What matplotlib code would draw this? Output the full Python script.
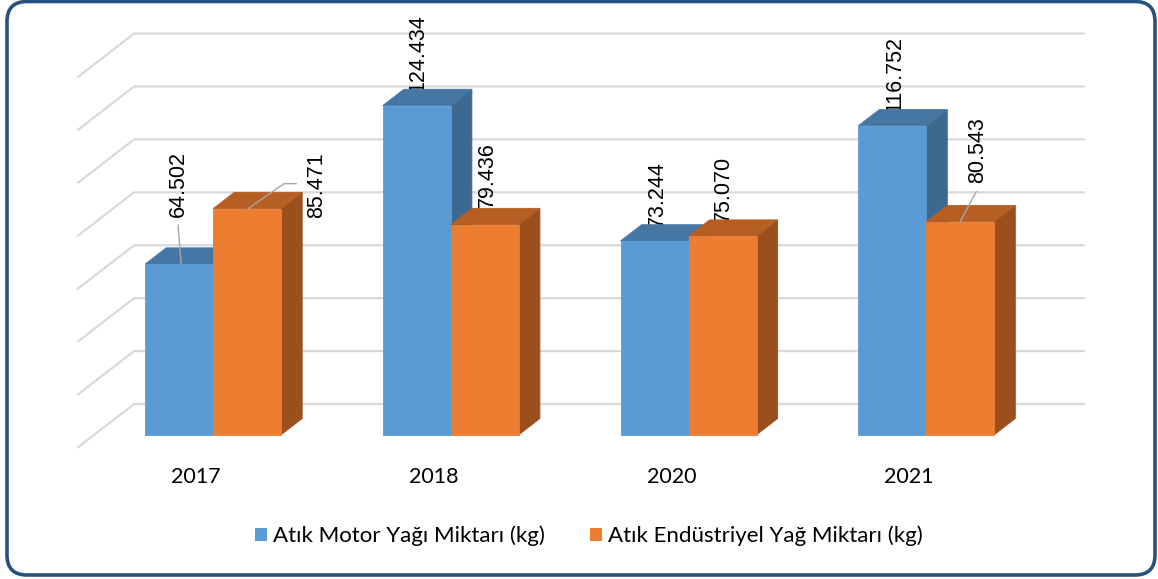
import matplotlib
matplotlib.use('Agg')
import matplotlib.pyplot as plt
from matplotlib.patches import Polygon, FancyBboxPatch, Patch
from matplotlib.lines import Line2D

# ---------------- data ----------------
years = ['2017', '2018', '2020', '2021']
motor_oil = [64502, 124434, 73244, 116752]        # kg
industrial_oil = [85471, 79436, 75070, 80543]     # kg
series_names = ['Atık Motor Yağı Miktarı (kg)', 'Atık Endüstriyel Yağ Miktarı (kg)']
grid_values = [0, 20000, 40000, 60000, 80000, 100000, 120000, 140000]

# ---------------- style / layout ----------------
BLUE = {'front': '#5B9BD5', 'top': '#4676A3', 'side': '#3D6990'}
ORANGE = {'front': '#ED7D31', 'top': '#B65E23', 'side': '#9B4F1D'}
GRID_C = '#D9D9D9'
LEADER_C = '#A6A6A6'
BORDER_C = '#26527F'

W, H = 1158, 579
fig = plt.figure(figsize=(W / 100, H / 100), dpi=100)
ax = fig.add_axes([0, 0, 1, 1])
ax.axis('off')

# axis scales (x: category units, y: kg)
PX_PER_CAT = 237.7
PX_PER_KG = 2.646e-3
X0_PX = 196.0      # pixel x of category 0 at the front floor edge
Y0_PX = 448.0      # pixel y (from top) of value 0 at the front floor edge
ax.set_xlim(-X0_PX / PX_PER_CAT, (W - X0_PX) / PX_PER_CAT)
ax.set_ylim((Y0_PX - H) / PX_PER_KG, Y0_PX / PX_PER_KG)

# oblique depth (full depth of the floor)
DX = 57 / PX_PER_CAT
DY = 44 / PX_PER_KG
Z_FRONT, Z_BACK = 0.30, 0.67     # bar depth range
BAR_W = 68 / PX_PER_CAT


def P(x, v, z):
    return (x + z * DX, v + z * DY)


# ---------------- walls / gridlines ----------------
n = len(years)
for g in grid_values:
    a = P(-0.5, g, 0)
    b = P(-0.5, g, 1)
    c = P(n - 0.5, g, 1)
    ax.plot([a[0], b[0], c[0]], [a[1], b[1], c[1]], color=GRID_C, lw=1.6,
            solid_capstyle='butt', zorder=1)


def draw_bar(x0, x1, v, col, z):
    front = [P(x0, 0, Z_FRONT), P(x1, 0, Z_FRONT), P(x1, v, Z_FRONT), P(x0, v, Z_FRONT)]
    top = [P(x0, v, Z_FRONT), P(x1, v, Z_FRONT), P(x1, v, Z_BACK), P(x0, v, Z_BACK)]
    side = [P(x1, 0, Z_FRONT), P(x1, 0, Z_BACK), P(x1, v, Z_BACK), P(x1, v, Z_FRONT)]
    for poly, key in ((side, 'side'), (top, 'top'), (front, 'front')):
        ax.add_patch(Polygon(poly, closed=True, fc=col[key], ec=col[key], lw=0.6, zorder=z))


def fmt(v):
    return f'{v:,}'.replace(',', '.')


# label offsets in pixels (dx, dy up) from bar front-top centre; leader polyline offsets
label_layout = {
    (0, 0): ((-1, 47), [(2, 0), (-1, 39)]),
    (0, 1): ((70, -9), [(1, 0), (37, 25), (49, 25)]),
    (1, 0): ((1, 14), None),
    (1, 1): ((3, 17), None),
    (2, 0): ((3, 14), None),
    (2, 1): ((1, 14), None),
    (3, 0): ((3, 14), None),
    (3, 1): ((17, 39), [(0, 0), (16, 30)]),
}

pix2data = ax.transData.inverted()

for i in range(n):
    for s, (vals, col, x0, x1) in enumerate((
            (motor_oil, BLUE, i - BAR_W, i),
            (industrial_oil, ORANGE, i, i + BAR_W))):
        v = vals[i]
        draw_bar(x0, x1, v, col, 3 + i * 2 + s)
        anchor = P((x0 + x1) / 2, v, Z_FRONT)
        (ox, oy), leader = label_layout[(i, s)]
        ax.annotate(fmt(v), xy=anchor, xytext=(ox, oy), textcoords='offset pixels',
                    rotation=90, ha='center', va='bottom', fontsize=15.5,
                    family='Liberation Sans', color='#000000', zorder=2)
        if leader:
            ax_px = ax.transData.transform(anchor)
            pts = [pix2data.transform((ax_px[0] + dx, ax_px[1] + dy)) for dx, dy in leader]
            ax.add_line(Line2D([p[0] for p in pts], [p[1] for p in pts], color=LEADER_C,
                               lw=1.0, zorder=20))

# category labels
for i, yr in enumerate(years):
    ax.annotate(yr, xy=P(i, 0, 0), xytext=(0, -29), textcoords='offset pixels',
                ha='center', va='center', fontsize=15.5, family='Lato', color='#000000')

# legend
handles = [Patch(fc=BLUE['front'], ec='none'), Patch(fc=ORANGE['front'], ec='none')]
leg = fig.legend(handles, series_names, loc='center', bbox_to_anchor=(0.5086, 1 - 536 / H),
                 ncol=2, frameon=False, prop={'family': 'Lato', 'size': 16},
                 handlelength=0.52, handleheight=0.52, handletextpad=0.27,
                 columnspacing=2.05)

# rounded border
bx = fig.add_axes([0, 0, 1, 1], zorder=30)
bx.set_xlim(0, W)
bx.set_ylim(H, 0)
bx.axis('off')
bx.add_patch(FancyBboxPatch((7, 1.5), 1148, 573.5, boxstyle='round,pad=0,rounding_size=20',
                            fill=False, ec=BORDER_C, lw=2.6))

fig.savefig('out.png', dpi=100)
